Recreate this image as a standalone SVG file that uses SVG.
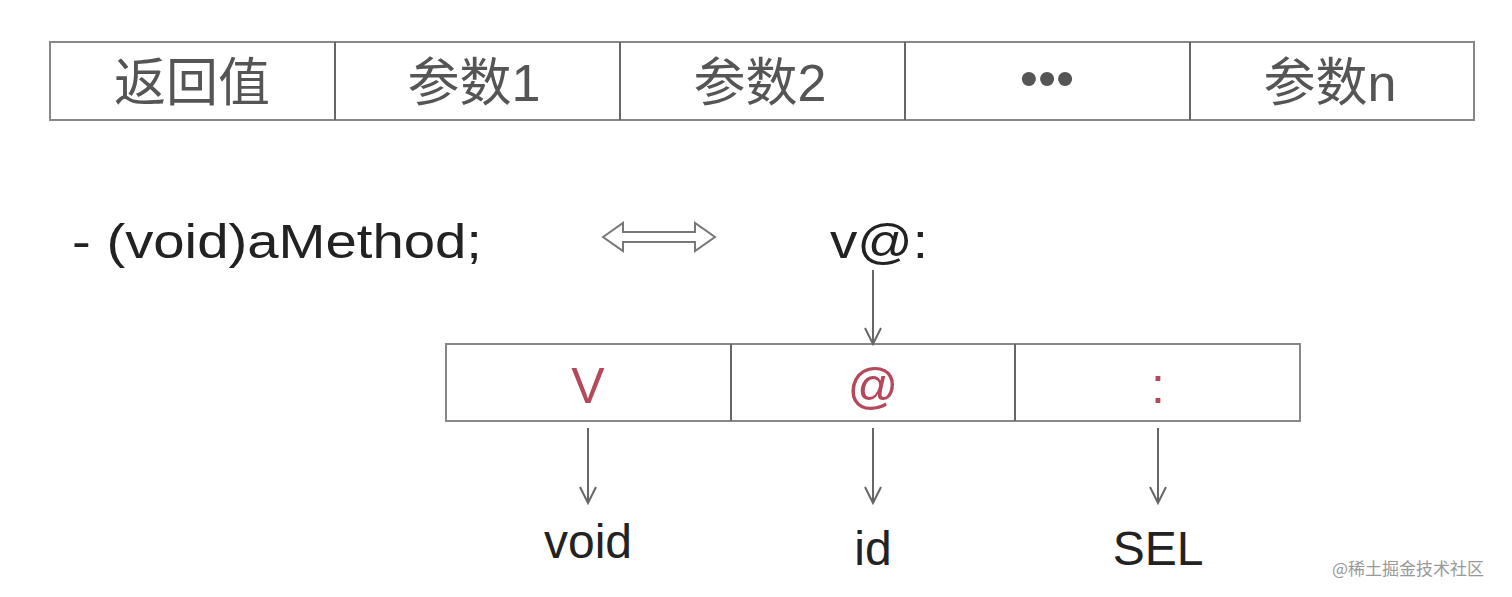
<svg xmlns="http://www.w3.org/2000/svg" width="1512" height="597" viewBox="0 0 1512 597">
<defs>
<style>
.box{fill:#fff;stroke:#888;stroke-width:2}
.t{font-family:"Liberation Sans","Noto Sans CJK SC",sans-serif;font-size:52px;fill:#555;text-anchor:middle}
.b{font-family:"Liberation Sans","Noto Sans CJK SC",sans-serif;font-size:48px;fill:#222}
.r{font-family:"Liberation Sans",sans-serif;font-size:50px;fill:#b5485a;text-anchor:middle}
.c{stroke:#666;stroke-width:2;fill:none}
</style>
<marker id="ah" viewBox="0 0 20 20" refX="18" refY="10" markerWidth="20" markerHeight="20" markerUnits="userSpaceOnUse" orient="auto">
<path d="M2,2 L18,10 L2,18" fill="none" stroke="#666" stroke-width="2"/>
</marker>
</defs>
<rect width="1512" height="597" fill="#fff"/>
<g id="top-row">
<rect class="box" x="50" y="42" width="1424" height="78"/>
<line class="c" x1="335" y1="42" x2="335" y2="120" stroke="#888"/>
<line class="c" x1="620" y1="42" x2="620" y2="120"/>
<line class="c" x1="905" y1="42" x2="905" y2="120"/>
<line class="c" x1="1190" y1="42" x2="1190" y2="120"/>
<text class="t" x="192" y="101">返回值</text>
<text class="t" x="474" y="101">参数1</text>
<text class="t" x="760" y="101">参数2</text>
<text class="t" x="1047" y="96">•••</text>
<text class="t" x="1330" y="101">参数n</text>
</g>
<g id="method"><text class="b" x="72" y="258" font-size="50" textLength="410" lengthAdjust="spacingAndGlyphs">- (void)aMethod;</text></g>
<g id="encoding"><text class="b" x="830" y="258" font-size="50" textLength="98" lengthAdjust="spacingAndGlyphs">v@:</text></g>
<g id="mid-row">
<rect class="box" x="446" y="344" width="854" height="77"/>
<line class="c" x1="731" y1="344" x2="731" y2="421"/>
<line class="c" x1="1015" y1="344" x2="1015" y2="421"/>
<text class="r" x="588" y="403">V</text>
<text class="r" x="873" y="403">@</text>
<text class="r" x="1158" y="403">:</text>
</g>
<g id="labels">
<text class="b" x="588" y="558" text-anchor="middle">void</text>
<text class="b" x="873" y="565" text-anchor="middle">id</text>
<text class="b" x="1158" y="565" text-anchor="middle">SEL</text>
</g>
<g id="connectors">
<polygon points="603,237 623,223 623,232 695,232 695,223 715,237 695,251 695,242 623,242 623,251" fill="#fff" stroke="#777" stroke-width="2"/>
<line class="c" x1="873" y1="270" x2="873" y2="344" marker-end="url(#ah)"/>
<line class="c" x1="588" y1="428" x2="588" y2="503" marker-end="url(#ah)"/>
<line class="c" x1="873" y1="428" x2="873" y2="503" marker-end="url(#ah)"/>
<line class="c" x1="1158" y1="428" x2="1158" y2="503" marker-end="url(#ah)"/>
</g>
<text x="1332" y="575" font-family="'Noto Sans CJK SC',sans-serif" font-size="17" fill="#999">@稀土掘金技术社区</text>
</svg>
